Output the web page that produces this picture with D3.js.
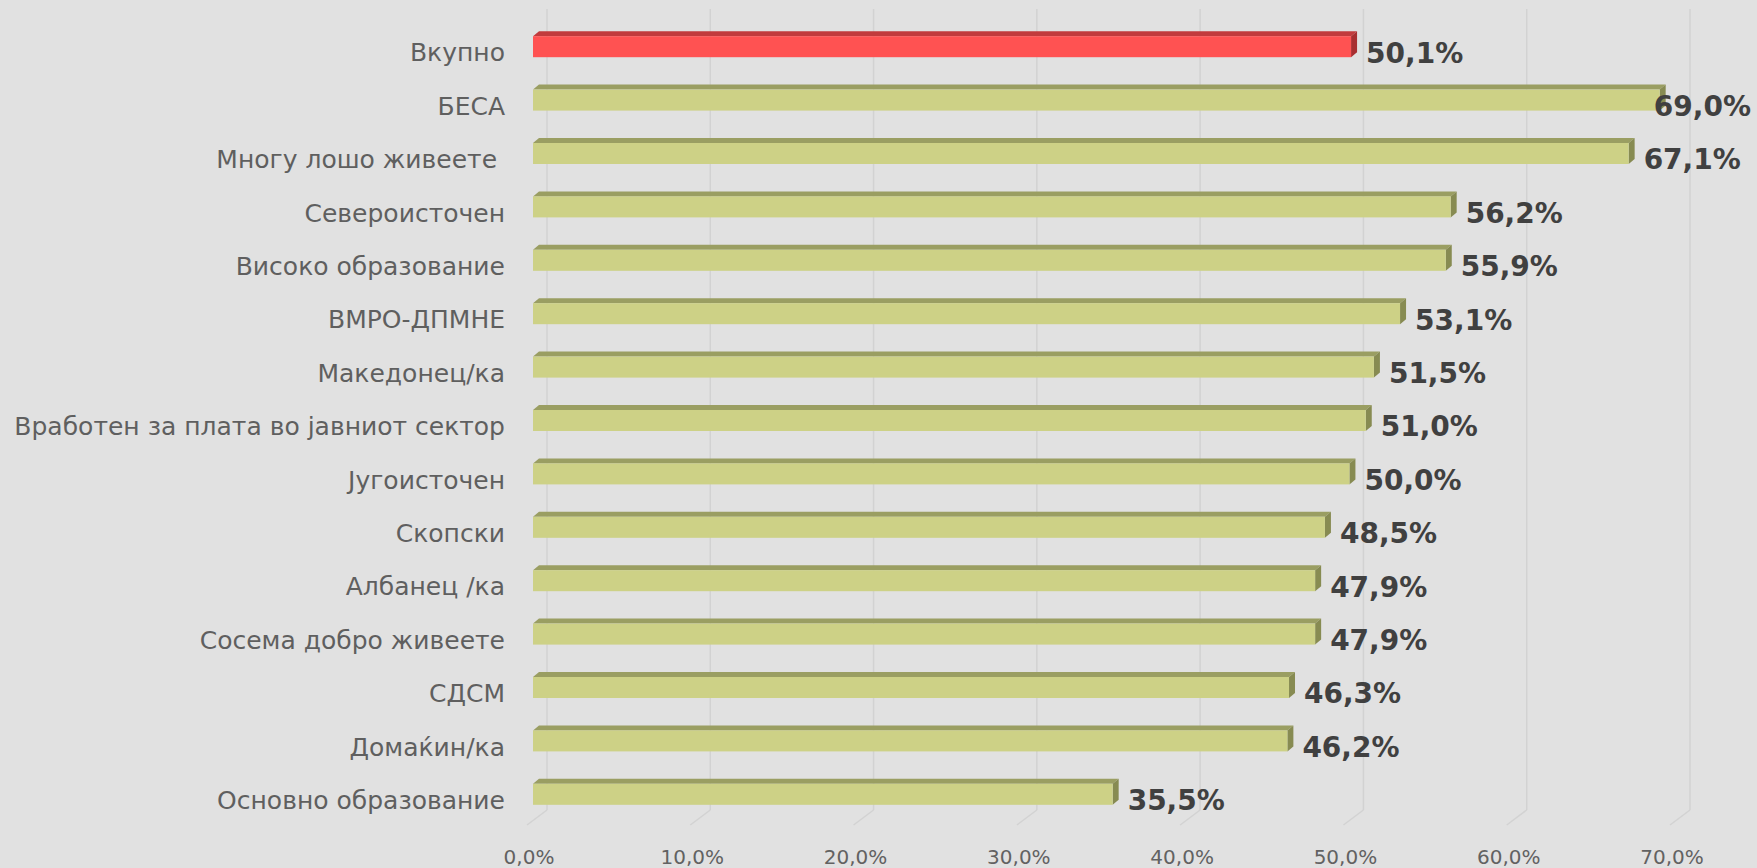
<!DOCTYPE html>
<html>
<head>
<meta charset="utf-8">
<script src="https://cdn.jsdelivr.net/npm/d3@7"></script>
<style>
  body { margin: 0; background: #e1e1e1; }
  svg { display: block; }
  .cat { font-family: "DejaVu Sans", sans-serif; fill: #5f5f5f; white-space: pre; }
  .val { font-family: "DejaVu Sans", sans-serif; font-weight: 700; fill: #404040; }
  .tick-label { font-family: "DejaVu Sans", sans-serif; fill: #626262; }
</style>
</head>
<body>
<div id="chart"></div>
<script>
const WIDTH = 1757;
const HEIGHT = 868;

// data
const categories = [
  "Вкупно", "БЕСА", "Многу лошо живеете ", "Североисточен", "Високо образование",
  "ВМРО-ДПМНЕ", "Македонец/ка", "Вработен за плата во јавниот сектор", "Југоисточен",
  "Скопски", "Албанец /ка", "Сосема добро живеете", "СДСМ", "Домаќин/ка", "Основно образование"
];
const values = [50.1, 69.0, 67.1, 56.2, 55.9, 53.1, 51.5, 51.0, 50.0, 48.5, 47.9, 47.9, 46.3, 46.2, 35.5];
const highlight = ["Вкупно"];
const tickValues = [0, 10, 20, 30, 40, 50, 60, 70];

const data = categories.map((c, i) => ({ category: c, value: values[i] }));

// 3d look: bars sit in the middle, the wall is further back
const depth = { dx: 6, dy: -5 };
const wall = { dx: 14, top: 9, bottom: 810 };
const floorFront = { dx: -6, y: 825 };
const barHeight = 21;

const fmt = v => d3.format(".1f")(v).replace(".", ",") + "%";

let svg = d3.select("#chart")
  .append("svg")
  .attr("width", WIDTH)
  .attr("height", HEIGHT);

svg.append("rect")
  .attr("width", WIDTH)
  .attr("height", HEIGHT)
  .attr("fill", "#e1e1e1");

let x = d3.scaleLinear()
  .domain([0, 70])
  .range([533, 1676]);

let y = d3.scaleBand()
  .domain(categories)
  .range([26, 827]);

// back wall gridlines + floor lines
let grid = svg.append("g");
grid.selectAll("line.wall")
  .data(tickValues)
  .enter()
  .append("line")
  .attr("class", "wall")
  .attr("x1", d => x(d) + wall.dx)
  .attr("x2", d => x(d) + wall.dx)
  .attr("y1", wall.top)
  .attr("y2", wall.bottom)
  .attr("stroke", "#d2d2d2")
  .attr("stroke-width", 1.5);

grid.selectAll("line.floor")
  .data(tickValues)
  .enter()
  .append("line")
  .attr("class", "floor")
  .attr("x1", d => x(d) + wall.dx)
  .attr("x2", d => x(d) + floorFront.dx)
  .attr("y1", wall.bottom)
  .attr("y2", floorFront.y)
  .attr("stroke", "#d2d2d2")
  .attr("stroke-width", 1.5);

// x tick labels along the front edge of the floor
svg.selectAll("text.tick-label")
  .data(tickValues)
  .enter()
  .append("text")
  .attr("class", "tick-label")
  .attr("x", d => x(d) - 4)
  .attr("y", 857)
  .attr("dy", "0.35em")
  .attr("text-anchor", "middle")
  .style("font-size", "20px")
  .text(d => fmt(d));

// bars
const barTop = d => y(d.category) + y.bandwidth() / 2 - 16.5;
const isHi = d => highlight.includes(d.category);

let bars = svg.selectAll("g.bar")
  .data(data)
  .enter()
  .append("g")
  .attr("class", "bar");

// top face
bars.append("path")
  .attr("d", d => {
    let x0 = x(0), x1 = x(d.value), t = barTop(d);
    return `M${x0},${t} L${x0 + depth.dx},${t + depth.dy} L${x1 + depth.dx},${t + depth.dy} L${x1},${t} Z`;
  })
  .attr("fill", d => isHi(d) ? "#c23b3d" : "#9a9e62");

// side face
bars.append("path")
  .attr("d", d => {
    let x1 = x(d.value), t = barTop(d);
    return `M${x1},${t} L${x1 + depth.dx},${t + depth.dy} L${x1 + depth.dx},${t + depth.dy + barHeight} L${x1},${t + barHeight} Z`;
  })
  .attr("fill", d => isHi(d) ? "#a82f31" : "#878b52");

// front face
bars.append("rect")
  .attr("x", x(0))
  .attr("y", d => barTop(d))
  .attr("width", d => x(d.value) - x(0))
  .attr("height", barHeight)
  .attr("fill", d => isHi(d) ? "#ff5252" : "#cdd186");

// category labels
svg.selectAll("text.cat")
  .data(data)
  .enter()
  .append("text")
  .attr("class", "cat")
  .attr("x", 505)
  .attr("y", d => y(d.category) + y.bandwidth() / 2)
  .attr("dy", "0.35em")
  .attr("text-anchor", "end")
  .style("font-size", "25px")
  .text(d => d.category);

// value labels, pushed back inside when they would run off the chart
svg.selectAll("text.val")
  .data(data)
  .enter()
  .append("text")
  .attr("class", "val")
  .attr("y", d => y(d.category) + y.bandwidth() / 2)
  .attr("dy", "0.35em")
  .style("font-size", "28px")
  .text(d => fmt(d.value))
  .attr("x", function (d) {
    let w = this.getComputedTextLength();
    return Math.min(x(d.value) + 15, WIDTH - 6 - w);
  });
</script>
</body>
</html>
